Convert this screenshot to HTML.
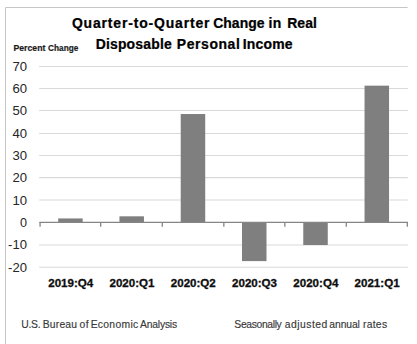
<!DOCTYPE html>
<html><head><meta charset="utf-8"><style>
html,body{margin:0;padding:0;background:#fff;}
body{width:417px;height:344px;overflow:hidden;}
svg{display:block;}
text{font-family:"Liberation Sans",sans-serif;font-kerning:none;}
.yl{font-size:12.6px;fill:#262626;}
.xl{font-size:11.3px;font-weight:bold;fill:#0d0d0d;stroke:#0d0d0d;stroke-width:0.3px;}
.ti{font-size:14.4px;font-weight:bold;fill:#000;stroke:#000;stroke-width:0.25px;}
.pc{font-size:9.2px;font-weight:bold;fill:#1a1a1a;stroke:#1a1a1a;stroke-width:0.2px;}
.ft{font-size:10.9px;fill:#383838;stroke:#383838;stroke-width:0.15px;}
</style></head><body>
<svg width="417" height="344" viewBox="0 0 417 344">
<rect width="417" height="344" fill="#fff"/>
<path d="M5.5 344 V7.5 H407.6" stroke="#c6c6c6" stroke-width="1" fill="none"/>
<line x1="39.2" x2="407.8" y1="66.50" y2="66.50" stroke="#d9d9d9" stroke-width="1.1"/>
<line x1="39.2" x2="407.8" y1="88.50" y2="88.50" stroke="#d9d9d9" stroke-width="1.1"/>
<line x1="39.2" x2="407.8" y1="110.50" y2="110.50" stroke="#d9d9d9" stroke-width="1.1"/>
<line x1="39.2" x2="407.8" y1="133.50" y2="133.50" stroke="#d9d9d9" stroke-width="1.1"/>
<line x1="39.2" x2="407.8" y1="155.50" y2="155.50" stroke="#d9d9d9" stroke-width="1.1"/>
<line x1="39.2" x2="407.8" y1="177.60" y2="177.60" stroke="#d9d9d9" stroke-width="1.1"/>
<line x1="39.2" x2="407.8" y1="200.00" y2="200.00" stroke="#d9d9d9" stroke-width="1.1"/>
<line x1="39.2" x2="407.8" y1="245.00" y2="245.00" stroke="#d9d9d9" stroke-width="1.1"/>
<line x1="39.2" x2="407.8" y1="267.30" y2="267.30" stroke="#d9d9d9" stroke-width="1.1"/>
<rect x="58.19" y="218.44" width="24.50" height="3.91" fill="#7f7f7f"/>
<rect x="119.45" y="216.32" width="24.50" height="6.03" fill="#7f7f7f"/>
<rect x="180.72" y="114.03" width="24.50" height="108.32" fill="#7f7f7f"/>
<rect x="242.00" y="222.35" width="24.50" height="38.75" fill="#7f7f7f"/>
<rect x="303.26" y="222.35" width="24.50" height="22.67" fill="#7f7f7f"/>
<rect x="364.54" y="85.66" width="24.50" height="136.69" fill="#7f7f7f"/>
<line x1="39.4" x2="408.0" y1="222.3" y2="222.3" stroke="#858585" stroke-width="1.3"/>
<line x1="40.07" x2="40.07" y1="222" y2="226.8" stroke="#858585" stroke-width="1.3"/>
<line x1="100.65" x2="100.65" y1="222" y2="226.8" stroke="#858585" stroke-width="1.3"/>
<line x1="162.30" x2="162.30" y1="222" y2="226.8" stroke="#858585" stroke-width="1.3"/>
<line x1="223.83" x2="223.83" y1="222" y2="226.8" stroke="#858585" stroke-width="1.3"/>
<line x1="284.83" x2="284.83" y1="222" y2="226.8" stroke="#858585" stroke-width="1.3"/>
<line x1="346.30" x2="346.30" y1="222" y2="226.8" stroke="#858585" stroke-width="1.3"/>
<line x1="407.30" x2="407.30" y1="222" y2="226.8" stroke="#858585" stroke-width="1.3"/>
<text x="27" y="70.50" text-anchor="end" class="yl" textLength="14.6" lengthAdjust="spacingAndGlyphs">70</text>
<text x="27" y="92.84" text-anchor="end" class="yl" textLength="14.6" lengthAdjust="spacingAndGlyphs">60</text>
<text x="27" y="115.17" text-anchor="end" class="yl" textLength="14.6" lengthAdjust="spacingAndGlyphs">50</text>
<text x="27" y="137.51" text-anchor="end" class="yl" textLength="14.6" lengthAdjust="spacingAndGlyphs">40</text>
<text x="27" y="159.84" text-anchor="end" class="yl" textLength="14.6" lengthAdjust="spacingAndGlyphs">30</text>
<text x="27" y="182.18" text-anchor="end" class="yl" textLength="14.6" lengthAdjust="spacingAndGlyphs">20</text>
<text x="27" y="204.51" text-anchor="end" class="yl" textLength="14.6" lengthAdjust="spacingAndGlyphs">10</text>
<text x="27" y="226.85" text-anchor="end" class="yl">0</text>
<text x="27" y="249.19" text-anchor="end" class="yl" textLength="18.9" lengthAdjust="spacingAndGlyphs">-10</text>
<text x="27" y="271.52" text-anchor="end" class="yl" textLength="18.9" lengthAdjust="spacingAndGlyphs">-20</text>
<text x="70.73" y="286.5" text-anchor="middle" class="xl" textLength="45" lengthAdjust="spacingAndGlyphs">2019:Q4</text>
<text x="132.00" y="286.5" text-anchor="middle" class="xl" textLength="45" lengthAdjust="spacingAndGlyphs">2020:Q1</text>
<text x="193.28" y="286.5" text-anchor="middle" class="xl" textLength="45" lengthAdjust="spacingAndGlyphs">2020:Q2</text>
<text x="254.55" y="286.5" text-anchor="middle" class="xl" textLength="45" lengthAdjust="spacingAndGlyphs">2020:Q3</text>
<text x="315.82" y="286.5" text-anchor="middle" class="xl" textLength="45" lengthAdjust="spacingAndGlyphs">2020:Q4</text>
<text x="377.09" y="286.5" text-anchor="middle" class="xl" textLength="45" lengthAdjust="spacingAndGlyphs">2021:Q1</text>
<text transform="translate(71.93 28.1) scale(0.9700 1)" class="ti" style="letter-spacing:0.866px">Quarter-to-Quarter</text>
<text transform="translate(213.13 28.1) scale(0.9700 1)" class="ti" style="letter-spacing:0.047px">Change</text>
<text transform="translate(268.42 28.1) scale(0.9700 1)" class="ti" style="letter-spacing:0.442px">in</text>
<text transform="translate(287.17 28.1) scale(0.9700 1)" class="ti" style="letter-spacing:0.110px">Real</text>
<text transform="translate(95.67 48.7) scale(0.9700 1)" class="ti" style="letter-spacing:0.182px">Disposable</text>
<text transform="translate(176.87 48.7) scale(0.9700 1)" class="ti" style="letter-spacing:0.592px">Personal</text>
<text transform="translate(242.77 48.7) scale(0.9700 1)" class="ti" style="letter-spacing:0.208px">Income</text>
<text x="13.42" y="50.7" class="pc" textLength="31.99" lengthAdjust="spacingAndGlyphs">Percent</text>
<text x="48.06" y="50.7" class="pc" textLength="30.32" lengthAdjust="spacingAndGlyphs">Change</text>
<text transform="translate(21.20 327.5) scale(0.9500 1)" class="ft" style="letter-spacing:-0.279px">U.S.</text>
<text transform="translate(42.65 327.5) scale(0.9500 1)" class="ft" style="letter-spacing:0.220px">Bureau</text>
<text transform="translate(79.57 327.5) scale(0.9500 1)" class="ft" style="letter-spacing:0.509px">of</text>
<text transform="translate(90.65 327.5) scale(0.9500 1)" class="ft" style="letter-spacing:0.309px">Economic</text>
<text transform="translate(139.98 327.5) scale(0.9500 1)" class="ft" style="letter-spacing:-0.205px">Analysis</text>
<text transform="translate(234.33 327.5) scale(0.9500 1)" class="ft" style="letter-spacing:-0.370px">Seasonally</text>
<text transform="translate(284.76 327.5) scale(0.9500 1)" class="ft" style="letter-spacing:0.505px">adjusted</text>
<text transform="translate(329.36 327.5) scale(0.9500 1)" class="ft" style="letter-spacing:-0.118px">annual</text>
<text transform="translate(363.01 327.5) scale(0.9500 1)" class="ft" style="letter-spacing:0.274px">rates</text>
</svg>
</body></html>
